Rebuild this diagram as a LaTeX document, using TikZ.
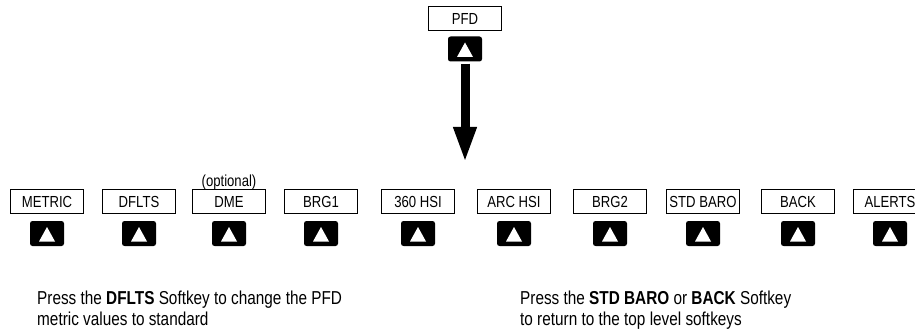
\documentclass[tikz,border=0pt]{standalone}
\usepackage{fontspec}
\setmainfont{Liberation Sans}[FakeStretch=0.82]
\usetikzlibrary{arrows.meta}
\begin{document}
\begin{tikzpicture}[x=1pt,y=-1pt,
  lbl/.style={draw, line width=1.6pt, minimum width=73pt, minimum height=24pt, inner sep=0pt, font=\fontsize{16}{19}\selectfont},
  key/.style={fill=black, rounded corners=2.5pt, minimum width=34pt, minimum height=25pt, inner sep=0pt,
    path picture={\fill[white, sharp corners] ([shift={(-8pt,-8pt)}]path picture bounding box.center) -- ([shift={(8pt,-8pt)}]path picture bounding box.center) -- ([shift={(0pt,6.5pt)}]path picture bounding box.center) -- cycle;}},
  txt/.style={font=\fontsize{18.7}{22}\selectfont, inner sep=0pt},
  opttxt/.style={font=\fontsize{16}{19}\selectfont, inner sep=0pt}
]
\useasboundingbox (0,0) rectangle (915,331);
% top
\node[lbl] (pfd) at (465,18.5) {PFD};
\node[key] (kpfd) at (465,49) {};
\coordinate (tip) at (465,163);
\draw[line width=9pt, -{Triangle[width=21pt,length=36pt]}] ([yshift=-2pt]kpfd.south) -- (tip);
% softkeys
\foreach \n/\x/\t in {m/47/METRIC, d/139/DFLTS, e/229/DME, b/321/BRG1, h/418/360 HSI, a/514/ARC HSI, c/610/BRG2, s/703/STD BARO, k/798/BACK, r/890/ALERTS}{
  \node[lbl] (l\n) at (\x,201.5) {\t};
  \node[key] (k\n) at (\x,233.5) {};
}
\node[opttxt, anchor=base] (opt) at (229,187) {(optional)};
% notes
\node[txt, anchor=base west] (t1) at (37,304) {Press the \textbf{DFLTS} Softkey to change the PFD};
\node[txt, anchor=base west] (t2) at (37,325) {metric values to standard};
\node[txt, anchor=base west] (t3) at (520,304) {Press the \textbf{STD BARO} or \textbf{BACK} Softkey};
\node[txt, anchor=base west] (t4) at (520,325) {to return to the top level softkeys};
\end{tikzpicture}
\end{document}
